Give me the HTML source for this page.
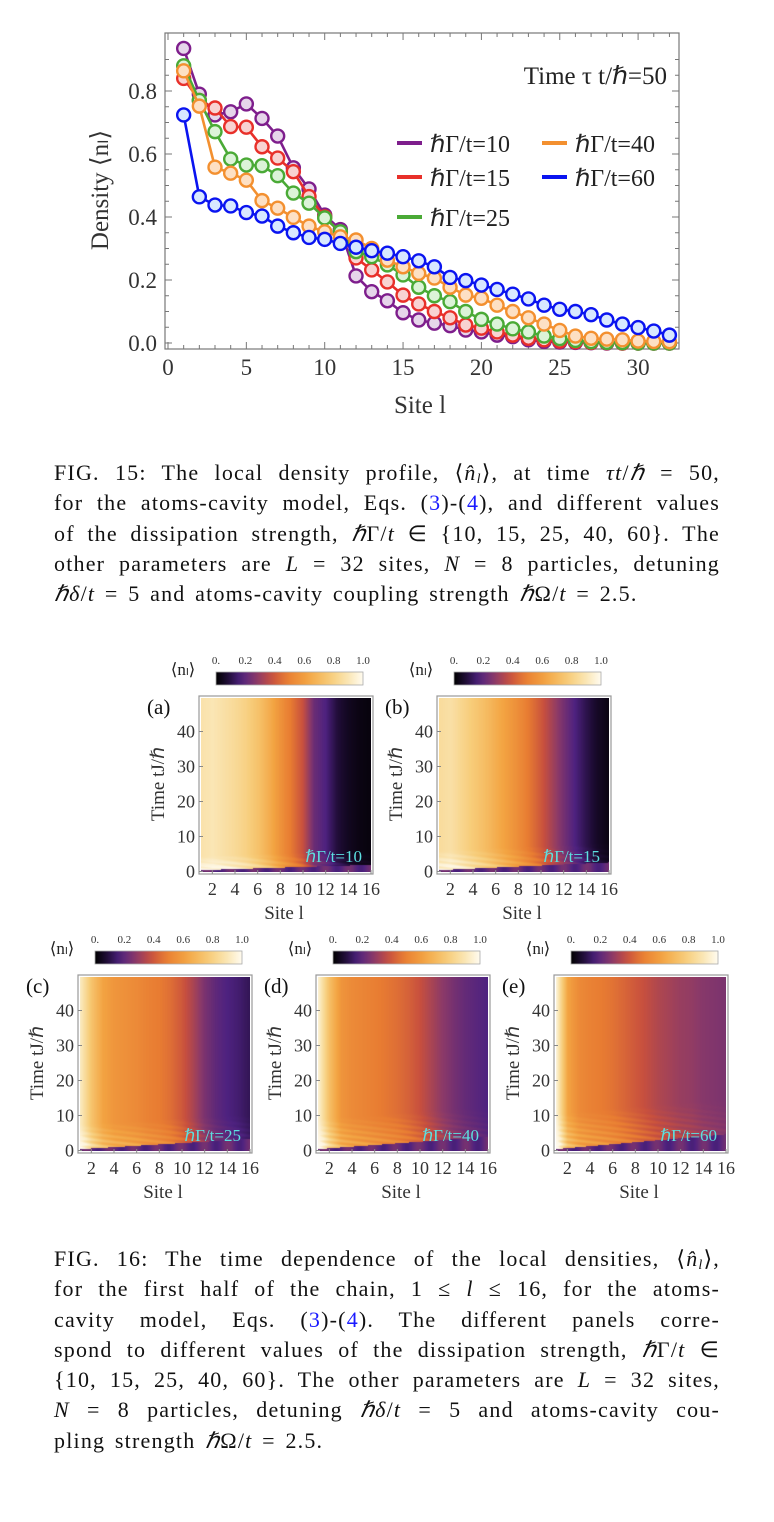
<!DOCTYPE html>
<html><head><meta charset="utf-8">
<style>
body{margin:0;background:#fff;width:774px;height:1522px;position:relative;overflow:hidden;font-family:"Liberation Serif",serif;}
.cap{position:absolute;left:54px;width:666px;font-size:22px;line-height:30px;color:#111;letter-spacing:1.2px;word-spacing:3px;}
.cap div{text-align:justify;text-align-last:justify;white-space:nowrap;height:30.3px;}
.cap div.last{text-align-last:left;}
.cap .b{color:#1a1aff}
.cap i{font-style:italic}
.cap sub{font-size:14px;line-height:0;vertical-align:-3px}
canvas{position:absolute;}
svg{position:absolute;left:0;top:0;}
</style></head><body>
<svg id="topchart" width="774" height="430" font-family="Liberation Serif, serif"></svg>

<div class="cap" style="top:458px">
<div>FIG. 15: The local density profile, ⟨<i>n̂<sub>l</sub></i>⟩, at time <i>τt</i>/<i>ℏ</i> = 50,</div>
<div>for the atoms-cavity model, Eqs. (<span class="b">3</span>)-(<span class="b">4</span>), and different values</div>
<div>of the dissipation strength, <i>ℏ</i>Γ/<i>t</i> ∈ {10, 15, 25, 40, 60}. The</div>
<div>other parameters are <i>L</i> = 32 sites, <i>N</i> = 8 particles, detuning</div>
<div class="last"><i>ℏδ</i>/<i>t</i> = 5 and atoms-cavity coupling strength <i>ℏ</i>Ω/<i>t</i> = 2.5.</div>
</div>

<div id="hm"></div>
<svg id="hsvg" width="774" height="1522" style="top:0" font-family="Liberation Serif, serif"></svg>

<div class="cap" style="top:1244px">
<div>FIG. 16: The time dependence of the local densities, ⟨<i>n̂<sub>l</sub></i>⟩,</div>
<div>for the first half of the chain, 1 ≤ <i>l</i> ≤ 16, for the atoms-</div>
<div>cavity model, Eqs. (<span class="b">3</span>)-(<span class="b">4</span>). The different panels corre-</div>
<div>spond to different values of the dissipation strength, <i>ℏ</i>Γ/<i>t</i> ∈</div>
<div>{10, 15, 25, 40, 60}. The other parameters are <i>L</i> = 32 sites,</div>
<div><i>N</i> = 8 particles, detuning <i>ℏδ</i>/<i>t</i> = 5 and atoms-cavity cou-</div>
<div class="last">pling strength <i>ℏ</i>Ω/<i>t</i> = 2.5.</div>
</div>

<script>
// ---------- FIG 15 data ----------
const sites = Array.from({length:32},(_,i)=>i+1);
const labels15 = ["ℏΓ/t=10","ℏΓ/t=15","ℏΓ/t=25","ℏΓ/t=40","ℏΓ/t=60"];
const g10 = [0.935,0.79,0.724,0.734,0.759,0.713,0.657,0.556,0.489,0.406,0.36,0.213,0.163,0.134,0.096,0.073,0.063,0.055,0.041,0.035,0.025,0.02,0.01,0.005,0.003,0.002,0.001,0,0,0,0,0];
const g15 = [0.84,0.77,0.746,0.687,0.685,0.623,0.587,0.544,0.465,0.40,0.35,0.27,0.232,0.194,0.152,0.124,0.10,0.08,0.057,0.047,0.035,0.025,0.015,0.01,0.006,0.004,0.002,0.001,0,0,0,0];
const g25 = [0.88,0.77,0.671,0.584,0.565,0.563,0.531,0.476,0.444,0.397,0.353,0.29,0.274,0.248,0.216,0.177,0.15,0.131,0.10,0.075,0.06,0.045,0.035,0.022,0.014,0.008,0.004,0.002,0.001,0,0,0];
const g40 = [0.864,0.752,0.558,0.539,0.517,0.452,0.428,0.399,0.371,0.353,0.337,0.327,0.30,0.263,0.242,0.221,0.206,0.177,0.152,0.142,0.12,0.1,0.08,0.06,0.04,0.022,0.015,0.012,0.01,0.006,0.005,0.004];
const g60 = [0.724,0.464,0.438,0.435,0.414,0.403,0.371,0.35,0.335,0.329,0.316,0.304,0.293,0.285,0.274,0.261,0.242,0.208,0.198,0.184,0.17,0.155,0.14,0.12,0.107,0.10,0.09,0.073,0.06,0.049,0.038,0.025];
const xTicks15 = [0,5,10,15,20,25,30];
const yTicks15 = [0.0,0.2,0.4,0.6,0.8];
const series15 = [g10,g15,g25,g40,g60];
const col15 = ["#7e1e8c","#e8302a","#4aaa36","#f39030","#0a14f0"];
const fill15 = ["#e6d6ea","#f8d3d2","#dcf3d8","#fde0c4","#d8e8ff"];

const NS="http://www.w3.org/2000/svg";
function mk(p,tag,at,txt){const e=document.createElementNS(NS,tag);for(const k in at)e.setAttribute(k,at[k]);if(txt!=null)e.textContent=txt;p.appendChild(e);return e;}
const tc=document.getElementById('topchart');
const X=s=>168+15.67*s, Y=v=>343-315*v;
const fr=mk(tc,'rect',{x:165,y:33,width:514,height:316,fill:'none',stroke:'#777','stroke-width':1.2});


for(let i=0;i<=18;i++){const v=i*0.05;const y=Y(v);if(y<34)continue;const L=(i%4==0)?7:4;
 mk(tc,'line',{x1:165,y1:y,x2:165+L,y2:y,stroke:'#777'});mk(tc,'line',{x1:679,y1:y,x2:679-L,y2:y,stroke:'#777'});}
for(let s=0;s<=32;s++){const x=X(s);const L=s%5==0?7:4;mk(tc,'line',{x1:x,y1:349,x2:x,y2:349-L,stroke:'#777'});mk(tc,'line',{x1:x,y1:33,x2:x,y2:33+L,stroke:'#777'});}
xTicks15.forEach(t=>{const e=mk(tc,'text',{x:X(t),y:375,'text-anchor':'middle','font-size':23,fill:'#333'},String(t));
});
yTicks15.forEach(t=>{const e=mk(tc,'text',{x:157,y:Y(t)+8,'text-anchor':'end','font-size':23,fill:'#333'},t.toFixed(1));
});
let e=mk(tc,'text',{x:420,y:413,'text-anchor':'middle','font-size':25,fill:'#333'},'Site l');

e=mk(tc,'text',{x:0,y:0,transform:'translate(108,190) rotate(-90)','text-anchor':'middle','font-size':25,fill:'#333'},'Density ⟨nₗ⟩');

series15.forEach((d,k)=>{
 const g=mk(tc,'g',{});
 mk(g,'polyline',{points:d.map((v,i)=>X(sites[i])+','+Y(v)).join(' '),fill:'none',stroke:col15[k],'stroke-width':2.6});
 d.forEach((v,i)=>{const c=mk(g,'circle',{cx:X(sites[i]),cy:Y(v),r:6.5,fill:fill15[k],stroke:col15[k],'stroke-width':2.4});
 });
});
e=mk(tc,'text',{x:667,y:84,'text-anchor':'end','font-size':25,fill:'#222'},'Time τ t/ℏ=50');

const lg=[[397,143],[397,177],[397,217],[542,143],[542,177]];
labels15.forEach((l,k)=>{const g=mk(tc,'g',{});
 mk(g,'line',{x1:lg[k][0],y1:lg[k][1],x2:lg[k][0]+25,y2:lg[k][1],stroke:col15[k],'stroke-width':4});
 mk(g,'text',{x:lg[k][0]+33,y:lg[k][1]+9,'font-size':24,fill:'#222'},l);});

// ---------- FIG 16 data ----------
const panelLabels=["(a)","(b)","(c)","(d)","(e)"];
const gammaLabels=["ℏΓ/t=10","ℏΓ/t=15","ℏΓ/t=25","ℏΓ/t=40","ℏΓ/t=60"];
const hA=[0.88,0.9,0.87,0.84,0.8,0.74,0.66,0.56,0.47,0.38,0.22,0.17,0.09,0.05,0.03,0.02];
const hB=[0.85,0.87,0.82,0.77,0.72,0.66,0.6,0.54,0.47,0.4,0.32,0.24,0.17,0.11,0.06,0.03];
const hC=[0.92,0.74,0.62,0.57,0.55,0.53,0.5,0.48,0.45,0.4,0.33,0.25,0.2,0.17,0.15,0.12];
const hD=[0.95,0.72,0.57,0.53,0.51,0.49,0.47,0.45,0.42,0.38,0.33,0.28,0.24,0.21,0.19,0.17];
const hE=[0.96,0.62,0.53,0.5,0.48,0.46,0.43,0.4,0.37,0.34,0.32,0.3,0.29,0.27,0.26,0.25];
const heatData=[hA,hB,hC,hD,hE];
const timeTicks=[0,10,20,30,40];
const siteTicks=[2,4,6,8,10,12,14,16];
const cbTicks=[0,0.2,0.4,0.6,0.8,1.0];
const panels=[{x:199,y:696},{x:437,y:696},{x:78,y:975},{x:316,y:975},{x:554,y:975}];
const stops=[[0,[0,0,0]],[0.08,[30,12,52]],[0.17,[78,34,128]],[0.28,[140,58,104]],[0.38,[200,80,62]],[0.48,[232,124,50]],[0.62,[243,164,66]],[0.78,[247,205,122]],[0.9,[250,230,181]],[1,[255,251,240]]];
function cmap(v){v=Math.max(0,Math.min(1,v));for(let i=1;i<stops.length;i++){if(v<=stops[i][0]){const a=stops[i-1],b=stops[i],t=(v-a[0])/(b[0]-a[0]);return a[1].map((c,j)=>Math.round(c+(b[1][j]-c)*t));}}return stops[stops.length-1][1];}
const hm=document.getElementById('hm'),hs=document.getElementById('hsvg');
const W=174,H=178;
panels.forEach((p,k)=>{
 const cv=document.createElement('canvas');cv.width=W-4;cv.height=H-4;cv.style.left=(p.x+2)+'px';cv.style.top=(p.y+2)+'px';
 
 
 hm.appendChild(cv);const ctx=cv.getContext('2d');const img=ctx.createImageData(cv.width,cv.height);const d=heatData[k];
 for(let px=0;px<cv.width;px++){const s=px/(cv.width-1)*15;const i=Math.min(14,Math.floor(s)),f=s-i;const fin=d[i]+(d[i+1]-d[i])*f;
  for(let py=0;py<cv.height;py++){const t=(cv.height-1-py)/3.5;let v=fin;
   const front=0.4+s*(0.1+k*0.045);
   const span=4+k*1.5;
   if(t<front){v=0.2+0.04*Math.sin(s*3);} else if(t<front+span){const w=(t-front)/span;const br=Math.min(1,fin+(0.12+0.06*Math.sin(t*4+s*1.5))*(1-s/18));v=fin*w+br*(1-w);}
   const c=cmap(v);const o=(py*cv.width+px)*4;img.data[o]=c[0];img.data[o+1]=c[1];img.data[o+2]=c[2];img.data[o+3]=255;}}
 ctx.putImageData(img,0,0);
 const g=mk(hs,'g',{});
 mk(g,'rect',{x:p.x,y:p.y,width:W,height:H,fill:'none',stroke:'#999','stroke-width':1.2});
 const tx=t=>p.y+H-2.5-t*3.5, sx=s=>p.x+2+(s-1)*(W-4)/15;
 timeTicks.forEach(t=>{mk(g,'line',{x1:p.x,y1:tx(t),x2:p.x+4,y2:tx(t),stroke:'#888'});
  mk(g,'text',{x:p.x-4,y:tx(t)+6,'text-anchor':'end','font-size':18,fill:'#333'},String(t));});
 siteTicks.forEach(s=>{mk(g,'line',{x1:sx(s),y1:p.y+H,x2:sx(s),y2:p.y+H-4,stroke:'#888'});
  mk(g,'text',{x:sx(s),y:p.y+H+21,'text-anchor':'middle','font-size':18,fill:'#333'},String(s));});
 mk(g,'text',{x:0,y:0,transform:`translate(${p.x-35},${p.y+88}) rotate(-90)`,'text-anchor':'middle','font-size':19,fill:'#333'},'Time tJ/ℏ');
 mk(g,'text',{x:p.x+W/2-2,y:p.y+H+45,'text-anchor':'middle','font-size':19,fill:'#333'},'Site l');
 mk(g,'text',{x:p.x-52,y:p.y+18,'font-size':21,fill:'#111'},panelLabels[k]);
 mk(g,'text',{x:p.x+W-11,y:p.y+H-12,'text-anchor':'end','font-size':17,fill:'#5ce0e0'},gammaLabels[k]);
 const cbx=p.x+17,cby=p.y-24,cbw=147,cbh=13;
 const gid='cg'+k;const lgd=mk(g,'linearGradient',{id:gid});
 for(let i=0;i<=20;i++){const c=cmap(i/20);mk(lgd,'stop',{offset:(i*5)+'%','stop-color':`rgb(${c})`});}
 const cb=mk(g,'rect',{x:cbx,y:cby,width:cbw,height:cbh,fill:`url(#${gid})`,stroke:'#aaa','stroke-width':0.8});
 
 cbTicks.forEach(t=>mk(g,'text',{x:cbx+t*cbw,y:cby-8,'text-anchor':'middle','font-size':11,fill:'#333'},t==0?'0.':t.toFixed(1)));
 mk(g,'text',{x:cbx-33,y:cby+3,'text-anchor':'middle','font-size':17,fill:'#222'},'⟨nₗ⟩');
});
</script>
</body></html>
